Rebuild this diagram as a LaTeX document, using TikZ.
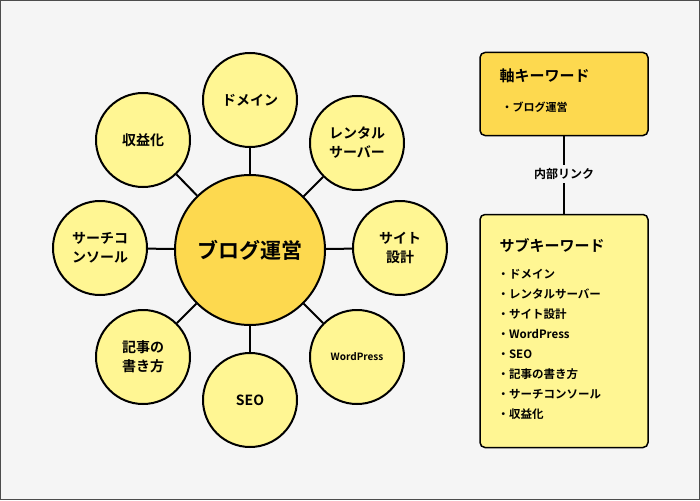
\documentclass[tikz,border=0pt]{standalone}
\usepackage{fontspec}
\newfontfamily\jp{Noto Sans CJK JP}[BoldFont={Noto Sans CJK JP Bold}]
\begin{document}
\begin{tikzpicture}[x=1pt,y=-1pt,
  outer/.style={circle,draw=black,line width=2pt,fill=yellowlight,minimum size=94pt,inner sep=0pt,align=center,font=\jp\bfseries\fontsize{14}{19}\selectfont},
  centerc/.style={circle,draw=black,line width=2pt,fill=yellowdark,minimum size=150pt,inner sep=0pt,font=\jp\bfseries\fontsize{21}{24}\selectfont},
  link/.style={line width=2pt,draw=black},
  box/.style={draw=black,line width=1.5pt,rounded corners=5pt,minimum width=168pt}]
\definecolor{yellowlight}{HTML}{FFF693}
\definecolor{yellowdark}{HTML}{FDD94F}
\definecolor{bg}{HTML}{F5F5F5}
\fill[bg,draw=black!70,line width=1pt] (0.5,0.5) rectangle (699.5,499.5);
\useasboundingbox (0,0) rectangle (700,500);
\node[centerc] (c) at (250,250) {ブログ運営};
\node[outer] (d) at (250,100) {ドメイン};
\node[outer] (r) at (357,143) {レンタル\\サーバー};
\node[outer] (s) at (400,248) {サイト\\設計};
\node[outer,font=\jp\bfseries\fontsize{10}{12}\selectfont] (w) at (357,357) {WordPress};
\node[outer] (e) at (250,400) {SEO};
\node[outer] (k) at (143,357) {記事の\\書き方};
\node[outer] (sc) at (100,248) {サーチコ\\ンソール};
\node[outer] (sh) at (143,140) {収益化};
\foreach \n in {d,r,s,w,e,k,sc,sh} \draw[link] (c) -- (\n);
\node[box,fill=yellowdark,minimum height=83pt] (t) at (564,94) {};
\node[anchor=west,font=\jp\bfseries\fontsize{15}{18}\selectfont] (tt) at (496,76) {軸キーワード};
\node[anchor=west,font=\jp\bfseries\fontsize{11}{13}\selectfont] (ti) at (498,107) {・ブログ運営};
\node[box,fill=yellowlight,minimum height=233pt] (b) at (564,331) {};
\node[anchor=west,font=\jp\bfseries\fontsize{15}{18}\selectfont] (bt) at (496,245) {サブキーワード};
\node[anchor=north west,align=left,font=\jp\bfseries\fontsize{11.5}{20}\selectfont] (bi) at (494,266) {・ドメイン\\・レンタルサーバー\\・サイト設計\\・WordPress\\・SEO\\・記事の書き方\\・サーチコンソール\\・収益化};
\node[font=\jp\bfseries\fontsize{12}{14}\selectfont,fill=bg] (l) at (564,174) {内部リンク};
\draw[line width=1.5pt] (t.south) -- (l.north);
\draw[line width=1.5pt] (l.south) -- (b.north);
\end{tikzpicture}
\end{document}
